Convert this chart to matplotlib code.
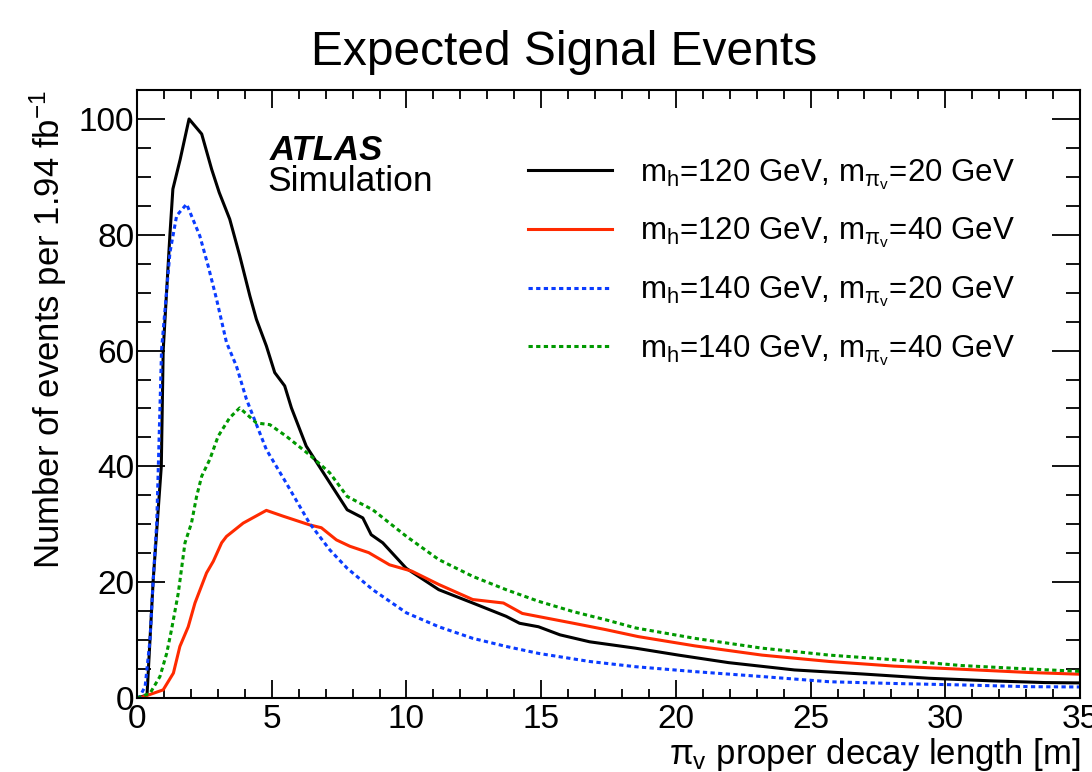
import matplotlib
matplotlib.use('Agg')
import matplotlib.pyplot as plt
from matplotlib.ticker import MultipleLocator

plt.rcParams['font.family'] = ['Liberation Sans', 'DejaVu Sans']
plt.rcParams['mathtext.fontset'] = 'custom'
plt.rcParams['mathtext.rm'] = 'Liberation Sans'
plt.rcParams['mathtext.it'] = 'Liberation Sans'

# m_h=120, m_piv=20 (black)
x_120_20 = [0.0, 0.37, 0.6, 0.9, 0.97, 1.22, 1.33, 1.6, 1.93, 2.4, 2.77, 3.05, 3.44,
            3.81, 4.19, 4.43, 4.8, 5.11, 5.48, 5.73, 6.28, 7.15, 7.8, 8.38, 8.69,
            9.12, 9.99, 11.2, 12.46, 13.7, 14.2, 14.9, 15.7, 16.8, 18.5, 20.1,
            21.96, 24.4, 26.9, 29.4, 31.8, 33.7, 35.0]
y_120_20 = [0.0, 0.5, 20.4, 40.0, 60.0, 80.0, 87.9, 93.0, 100.0, 97.4, 91.3, 87.3, 82.7,
            76.4, 69.4, 65.4, 60.8, 56.2, 53.9, 50.1, 43.5, 37.2, 32.5, 31.1, 28.2,
            26.8, 22.4, 18.7, 16.4, 14.1, 12.9, 12.3, 10.9, 9.7, 8.6, 7.4,
            6.1, 4.84, 4.15, 3.4, 2.94, 2.66, 2.6]

# m_h=120, m_piv=40 (red)
x_120_40 = [0.0, 0.23, 0.97, 1.35, 1.59, 1.9, 2.15, 2.58, 2.83, 3.14, 3.32, 3.94, 4.8,
            5.42, 6.4, 6.84, 7.4, 7.9, 8.6, 9.37, 10.2, 11.2, 12.46, 13.6, 14.3,
            16.2, 17.4, 18.6, 20.7, 23.2, 25.7, 28.1, 30.6, 33.1, 35.0]
y_120_40 = [0.0, 0.2, 1.4, 4.3, 8.9, 12.3, 16.4, 21.6, 23.6, 26.8, 27.9, 30.2, 32.4,
            31.4, 29.9, 29.4, 27.3, 26.2, 25.1, 23.0, 21.9, 19.6, 17.0, 16.4, 14.6,
            12.9, 11.8, 10.6, 9.0, 7.4, 6.3, 5.5, 4.96, 4.4, 4.1]

# m_h=140, m_piv=20 (blue)
x_140_20 = [0.0, 0.1, 0.3, 0.48, 0.6, 0.73, 0.79, 0.91, 1.22, 1.47, 1.84, 2.33, 2.64,
            2.95, 3.32, 3.69, 4.06, 4.8, 5.54, 6.4, 7.15, 7.8, 8.75, 10.0, 11.2,
            12.46, 13.7, 14.9, 16.8, 18.5, 20.7, 23.2, 25.7, 28.1, 30.6, 33.1, 35.0]
y_140_20 = [0.0, 0.2, 2.0, 10.0, 20.4, 30.2, 40.0, 60.2, 76.9, 83.3, 85.3, 79.8, 74.6,
            68.9, 61.4, 57.3, 51.6, 42.9, 37.1, 30.2, 25.6, 22.4, 18.7, 14.7, 12.3,
            10.3, 8.9, 7.7, 6.3, 5.4, 4.55, 3.7, 2.8, 2.5, 2.25, 1.95, 1.9]

# m_h=140, m_piv=40 (green)
x_140_40 = [0.0, 0.48, 0.85, 1.1, 1.28, 1.53, 1.78, 2.02, 2.21, 2.4, 2.7, 3.01, 3.44,
            3.81, 4.43, 4.93, 5.54, 6.4, 7.15, 7.8, 8.75, 10.0, 11.2, 12.46, 13.7,
            14.9, 16.2, 17.4, 18.5, 20.7, 23.2, 25.7, 28.1, 30.6, 33.1, 35.0]
y_140_40 = [0.0, 0.8, 3.7, 7.7, 11.8, 18.1, 26.8, 30.2, 34.8, 38.3, 41.2, 45.2, 48.4,
            50.1, 47.5, 47.2, 45.2, 42.0, 38.9, 34.8, 32.5, 27.9, 23.9, 21.0, 18.7,
            16.7, 14.9, 13.5, 12.1, 10.3, 8.6, 7.4, 6.6, 5.6, 5.0, 4.6]

labels = [r'm$_\mathregular{h}$=120 GeV, m$_{\pi_\mathregular{v}}$=20 GeV',
          r'm$_\mathregular{h}$=120 GeV, m$_{\pi_\mathregular{v}}$=40 GeV',
          r'm$_\mathregular{h}$=140 GeV, m$_{\pi_\mathregular{v}}$=20 GeV',
          r'm$_\mathregular{h}$=140 GeV, m$_{\pi_\mathregular{v}}$=40 GeV']

fig = plt.figure(figsize=(10.92, 7.72), dpi=100)
ax = fig.add_axes([0.1255, 0.0959, 0.8635, 0.7875])

dot = (0, (1.4, 1.1))
ax.plot(x_120_20, y_120_20, color='black', lw=2.2, label=labels[0])
ax.plot(x_120_40, y_120_40, color='#ff2a00', lw=2.2, label=labels[1])
ax.plot(x_140_20, y_140_20, color='#0a3cff', lw=2.2, ls=dot, label=labels[2])
ax.plot(x_140_40, y_140_40, color='#009900', lw=2.2, ls=dot, label=labels[3])

ax.set_xlim(0, 35)
ax.set_ylim(0, 105)
ax.xaxis.set_major_locator(MultipleLocator(5))
ax.xaxis.set_minor_locator(MultipleLocator(1))
ax.yaxis.set_major_locator(MultipleLocator(20))
ax.yaxis.set_minor_locator(MultipleLocator(5))
ax.tick_params(axis='both', which='both', direction='in', top=True, right=True,
               labelsize=24, width=1.3, color='black')
ax.tick_params(axis='x', which='major', length=13, pad=4)
ax.tick_params(axis='x', which='minor', length=6.5)
ax.tick_params(axis='y', which='major', length=20, pad=2)
ax.tick_params(axis='y', which='minor', length=10)
for s in ax.spines.values():
    s.set_linewidth(1.5)

fig.text(0.517, 0.932, 'Expected Signal Events', ha='center', va='center', fontsize=34.5)
fig.text(0.044, 0.8834, r'Number of events per 1.94 fb$^{-1}$', rotation=90,
         ha='center', va='top', fontsize=25)
fig.text(0.989, 0.01, r'$\pi_\mathregular{v}$ proper decay length [m]', ha='right',
         va='baseline', fontsize=25)
fig.text(0.247, 0.805, 'ATLAS', fontsize=25, fontweight='bold', fontstyle='italic',
         ha='left', va='center')
fig.text(0.245, 0.765, 'Simulation', fontsize=25.5, ha='left', va='center')

ax.legend(loc='upper left', bbox_to_anchor=(528 / 1092, 1 - 157 / 772),
          bbox_transform=fig.transFigure, frameon=False, fontsize=22.5,
          handlelength=2.7, handletextpad=0.9, borderpad=0, borderaxespad=0,
          labelspacing=0.77)

fig.savefig('out.png', dpi=100)
